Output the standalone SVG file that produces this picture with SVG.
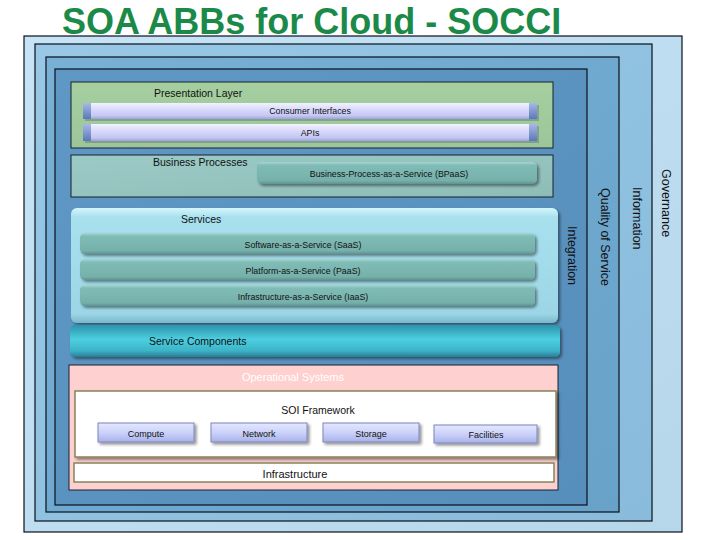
<svg xmlns="http://www.w3.org/2000/svg" width="720" height="540" viewBox="0 0 720 540">
<defs>
<linearGradient id="gOuter" x1="0" y1="0" x2="1" y2="1"><stop offset="0" stop-color="#c6e4f6"/><stop offset="1" stop-color="#b6d6ea"/></linearGradient>
<linearGradient id="gF2" x1="0" y1="0" x2="1" y2="1"><stop offset="0" stop-color="#98c8e6"/><stop offset="1" stop-color="#88bbdc"/></linearGradient>
<linearGradient id="gF3" x1="0" y1="0" x2="1" y2="1"><stop offset="0" stop-color="#78b0d6"/><stop offset="1" stop-color="#68a2c8"/></linearGradient>
<linearGradient id="gF4" x1="0" y1="0" x2="1" y2="1"><stop offset="0" stop-color="#5f98c4"/><stop offset="1" stop-color="#568ebc"/></linearGradient>
<linearGradient id="gPres" x1="0" y1="0" x2="0" y2="1"><stop offset="0" stop-color="#a6cfa0"/><stop offset="1" stop-color="#9cc69a"/></linearGradient>
<linearGradient id="gBP" x1="0" y1="0" x2="1" y2="1"><stop offset="0" stop-color="#9ccac6"/><stop offset="1" stop-color="#8ebdb8"/></linearGradient>
<linearGradient id="gLav" x1="0" y1="0" x2="0" y2="1"><stop offset="0" stop-color="#f2f2ff"/><stop offset="0.35" stop-color="#dcdcfc"/><stop offset="0.8" stop-color="#c4c6f4"/><stop offset="1" stop-color="#9ea4d8"/></linearGradient>
<linearGradient id="gCap" x1="0" y1="0" x2="0" y2="1"><stop offset="0" stop-color="#a8b8e8"/><stop offset="1" stop-color="#5a78b8"/></linearGradient>
<linearGradient id="gTeal" x1="0" y1="0" x2="0" y2="1"><stop offset="0" stop-color="#a8d6d2"/><stop offset="0.15" stop-color="#80bcb6"/><stop offset="0.85" stop-color="#76b0aa"/><stop offset="1" stop-color="#5a9490"/></linearGradient>
<linearGradient id="gServ" x1="0" y1="0" x2="0" y2="1"><stop offset="0" stop-color="#d4f6fc"/><stop offset="0.08" stop-color="#a8e0ee"/><stop offset="0.92" stop-color="#9cd6e6"/><stop offset="1" stop-color="#78b8cc"/></linearGradient>
<linearGradient id="gSC" x1="0" y1="0" x2="0" y2="1"><stop offset="0" stop-color="#2c94ac"/><stop offset="0.45" stop-color="#4ccfe0"/><stop offset="0.8" stop-color="#3cb4c8"/><stop offset="1" stop-color="#2a7c94"/></linearGradient>
<linearGradient id="gBtn" x1="0" y1="0" x2="0" y2="1"><stop offset="0" stop-color="#e4e8ff"/><stop offset="0.5" stop-color="#ccd2fa"/><stop offset="1" stop-color="#a8b2ea"/></linearGradient>
<filter id="sh" x="-5%" y="-20%" width="110%" height="160%"><feGaussianBlur in="SourceAlpha" stdDeviation="1.5"/><feOffset dx="2" dy="2"/><feComponentTransfer><feFuncA type="linear" slope="0.45"/></feComponentTransfer><feMerge><feMergeNode/><feMergeNode in="SourceGraphic"/></feMerge></filter>
</defs>
<style>
.frame{stroke:#0a0f1a;stroke-width:1.2}
.box{stroke:#18202e;stroke-width:1}
.lbl{font-family:"Liberation Sans",Arial,sans-serif;font-size:10.5px;fill:#111}
.sm{font-family:"Liberation Sans",Arial,sans-serif;font-size:8.8px;fill:#111;text-anchor:middle}
.btn{font-family:"Liberation Sans",Arial,sans-serif;font-size:9px;fill:#111;text-anchor:middle}
.vert{font-family:"Liberation Sans",Arial,sans-serif;font-size:12.5px;fill:#111}
.olive{fill:#fff;stroke:#85855a;stroke-width:1.5}
</style>
<rect x="0" y="0" width="720" height="540" fill="#fff"/>
<text x="62" y="34" font-family="Liberation Sans,Arial,sans-serif" font-weight="bold" font-size="36" fill="#1b8a48">SOA ABBs for Cloud - SOCCI</text>

<g id="governance">
<rect class="frame" x="24" y="36" width="658" height="496" fill="url(#gOuter)"/>
<text class="vert" transform="translate(666,169) rotate(90)" x="0" y="4.5">Governance</text>
</g>
<g id="information">
<rect class="frame" x="35" y="44" width="617" height="477" fill="url(#gF2)"/>
<text class="vert" transform="translate(637,187) rotate(90)" x="0" y="4.5">Information</text>
</g>
<g id="quality-of-service">
<rect class="frame" x="46" y="57" width="573" height="455" fill="url(#gF3)"/>
<text class="vert" transform="translate(605,188) rotate(90)" x="0" y="4.5">Quality of Service</text>
</g>
<g id="integration">
<rect class="frame" x="55" y="69" width="532" height="436" fill="url(#gF4)"/>
<text class="vert" transform="translate(572,226) rotate(90)" x="0" y="4.5">Integration</text>
</g>

<g id="presentation-layer">
<rect class="box" x="71" y="82" width="482" height="66" fill="url(#gPres)"/>
<text class="lbl" x="154" y="97">Presentation Layer</text>
</g>
<g id="consumer-interfaces">
<rect x="85" y="105" width="454" height="16" fill="#4a5a70" opacity="0.35"/>
<rect x="83" y="103" width="9" height="16" fill="url(#gCap)"/>
<rect x="528" y="103" width="9" height="16" fill="url(#gCap)"/>
<rect x="91" y="103" width="438" height="16" fill="url(#gLav)"/>
<text class="sm" x="310" y="114">Consumer Interfaces</text>
</g>
<g id="apis">
<rect x="85" y="126" width="454" height="17" fill="#4a5a70" opacity="0.35"/>
<rect x="83" y="124" width="9" height="17" fill="url(#gCap)"/>
<rect x="528" y="124" width="9" height="17" fill="url(#gCap)"/>
<rect x="91" y="124" width="438" height="17" fill="url(#gLav)"/>
<text class="sm" x="310" y="135.5">APIs</text>
</g>

<g id="business-processes">
<rect class="box" x="71" y="155" width="482" height="42" fill="url(#gBP)"/>
<text class="lbl" x="153" y="166">Business Processes</text>
</g>
<g id="bpaas">
<rect x="257" y="162" width="280" height="22" rx="5" fill="url(#gTeal)" filter="url(#sh)"/>
<text class="sm" x="389" y="176.5">Business-Process-as-a-Service (BPaaS)</text>
</g>

<g id="services">
<rect x="71" y="208" width="487" height="115" rx="6" fill="url(#gServ)" filter="url(#sh)"/>
<text class="lbl" x="181" y="223">Services</text>
</g>
<g id="saas">
<rect x="80" y="233" width="455" height="21" rx="5" fill="url(#gTeal)" filter="url(#sh)"/>
<text class="sm" x="303" y="247.5">Software-as-a-Service (SaaS)</text>
</g>
<g id="paas">
<rect x="80" y="259" width="455" height="21" rx="5" fill="url(#gTeal)" filter="url(#sh)"/>
<text class="sm" x="303" y="273.5">Platform-as-a-Service (PaaS)</text>
</g>
<g id="iaas">
<rect x="80" y="285" width="455" height="21" rx="5" fill="url(#gTeal)" filter="url(#sh)"/>
<text class="sm" x="303" y="299.5">Infrastructure-as-a-Service (IaaS)</text>
</g>

<g id="service-components">
<rect x="70" y="325" width="490" height="32" rx="5" fill="url(#gSC)" filter="url(#sh)"/>
<text class="lbl" x="149" y="345">Service Components</text>
</g>

<g id="operational-systems">
<rect class="box" x="69" y="365" width="489" height="125" fill="#ffd0d0"/>
<text class="lbl" x="293" y="380.5" font-size="11" fill="#fff" style="fill:#fff;font-size:11px" text-anchor="middle">Operational Systems</text>
</g>
<g id="soi-framework">
<rect class="olive" x="75" y="391" width="481" height="66" filter="url(#sh)"/>
<text class="lbl" x="318" y="414" text-anchor="middle">SOI Framework</text>
</g>
<g id="compute">
<rect x="98" y="423" width="96" height="19" fill="url(#gBtn)" stroke="#7c86bc" stroke-width="1" filter="url(#sh)"/>
<text class="btn" x="146" y="436.5">Compute</text>
</g>
<g id="network">
<rect x="211" y="423" width="96" height="19" fill="url(#gBtn)" stroke="#7c86bc" stroke-width="1" filter="url(#sh)"/>
<text class="btn" x="259" y="436.5">Network</text>
</g>
<g id="storage">
<rect x="323" y="423" width="96" height="19" fill="url(#gBtn)" stroke="#7c86bc" stroke-width="1" filter="url(#sh)"/>
<text class="btn" x="371" y="436.5">Storage</text>
</g>
<g id="facilities">
<rect x="434" y="425" width="103" height="18" fill="url(#gBtn)" stroke="#7c86bc" stroke-width="1" filter="url(#sh)"/>
<text class="btn" x="486" y="437.5">Facilities</text>
</g>
<g id="infrastructure">
<rect class="olive" x="74" y="463" width="480" height="19"/>
<text class="lbl" x="295" y="478" style="font-size:11px" text-anchor="middle">Infrastructure</text>
</g>
<g id="connectors"/>
</svg>
